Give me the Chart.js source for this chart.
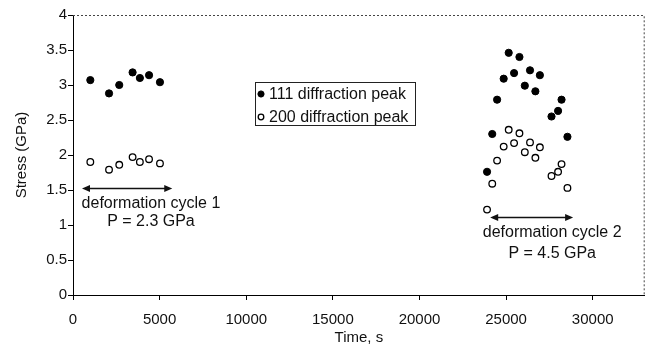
<!DOCTYPE html>
<html>
<head>
<meta charset="utf-8">
<script src="https://cdn.jsdelivr.net/npm/chart.js@4/dist/chart.umd.min.js"></script>
<style>
  html, body { margin: 0; padding: 0; background: #fff; }
  #wrap { width: 650px; height: 347px; position: relative; }
</style>
</head>
<body>
<div id="wrap"><canvas id="c" width="650" height="347"></canvas></div>
<script>
// Measured stress in two loading cycles (time in s, stress in GPa)
const cycle1Time = [1000, 2080, 2670, 3440, 3860, 4390, 5020];
const cycle1Peak111 = [3.07, 2.88, 3.00, 3.18, 3.10, 3.14, 3.04];
const cycle1Peak200 = [1.90, 1.79, 1.86, 1.97, 1.90, 1.94, 1.88];

const cycle2Time = [23900, 24200, 24480, 24860, 25150, 25460, 25770, 26080, 26380, 26690, 26950, 27620, 28000, 28200, 28540];
const cycle2Peak111 = [1.76, 2.30, 2.79, 3.09, 3.46, 3.17, 3.40, 2.99, 3.21, 2.91, 3.14, 2.55, 2.63, 2.79, 2.26];
const cycle2Peak200 = [1.22, 1.59, 1.92, 2.12, 2.36, 2.17, 2.31, 2.04, 2.18, 1.96, 2.11, 1.70, 1.76, 1.87, 1.53];

const seriesNames = ['111 diffraction peak', '200 diffraction peak'];
const yTickValues = [0, 0.5, 1, 1.5, 2, 2.5, 3, 3.5, 4];
const xTickValues = [0, 5000, 10000, 15000, 20000, 25000, 30000];

// Cycle annotations: arrow span (time), arrow level (stress), label lines
const cycleNames = ['deformation cycle 1', 'deformation cycle 2'];
const cyclePressure = ['P = 2.3 GPa', 'P = 4.5 GPa'];
const cycleArrowFrom = [520, 24080];
const cycleArrowTo = [5730, 28870];
const cycleArrowLevel = [1.53, 1.11];
const cycleLabelCenter = [4500, 27660];
const cycleLabelLevel = [1.31, 0.89];
const cyclePressureLevel = [1.05, 0.59];

const FONT = "'Liberation Sans', Arial, sans-serif";
const INK = '#111';

const pts = (xs, ys) => xs.map((x, i) => ({ x, y: ys[i] }));

const peak111 = pts(cycle1Time.concat(cycle2Time), cycle1Peak111.concat(cycle2Peak111));
const peak200 = pts(cycle1Time.concat(cycle2Time), cycle1Peak200.concat(cycle2Peak200));

const frameAndNotes = {
  id: 'frameAndNotes',
  afterDatasetsDraw(chart) {
    const { ctx, chartArea: a, scales: { x, y } } = chart;
    ctx.save();
    // dotted top and right frame
    ctx.strokeStyle = '#444';
    ctx.lineWidth = 1;
    ctx.setLineDash([2, 2]);
    ctx.beginPath();
    ctx.moveTo(a.left, a.top + 0.5);
    ctx.lineTo(a.right - 0.5, a.top + 0.5);
    ctx.lineTo(a.right - 0.5, a.bottom);
    ctx.stroke();
    ctx.setLineDash([]);

    // double-headed arrows with labels
    ctx.fillStyle = INK;
    ctx.strokeStyle = INK;
    for (let i = 0; i < cycleNames.length; i++) {
      const x1 = x.getPixelForValue(cycleArrowFrom[i]);
      const x2 = x.getPixelForValue(cycleArrowTo[i]);
      const yy = Math.round(y.getPixelForValue(cycleArrowLevel[i])) + 0.5;
      const head = 8, half = 3.5;
      ctx.lineWidth = 1.5;
      ctx.beginPath();
      ctx.moveTo(x1 + head - 1, yy);
      ctx.lineTo(x2 - head + 1, yy);
      ctx.stroke();
      ctx.beginPath();
      ctx.moveTo(x1, yy); ctx.lineTo(x1 + head, yy - half); ctx.lineTo(x1 + head, yy + half); ctx.closePath();
      ctx.fill();
      ctx.beginPath();
      ctx.moveTo(x2, yy); ctx.lineTo(x2 - head, yy - half); ctx.lineTo(x2 - head, yy + half); ctx.closePath();
      ctx.fill();

      ctx.font = '16px ' + FONT;
      ctx.textAlign = 'center';
      ctx.textBaseline = 'middle';
      const cx = x.getPixelForValue(cycleLabelCenter[i]);
      ctx.fillText(cycleNames[i], cx, y.getPixelForValue(cycleLabelLevel[i]));
      ctx.fillText(cyclePressure[i], cx, y.getPixelForValue(cyclePressureLevel[i]));
    }

    // legend box
    const lx = 255, ly = 82, lw = 160, lh = 43;
    ctx.lineWidth = 1;
    ctx.strokeStyle = '#222';
    ctx.strokeRect(lx + 0.5, ly + 0.5, lw, lh);
    ctx.font = '16px ' + FONT;
    ctx.textAlign = 'left';
    ctx.textBaseline = 'middle';
    chart.data.datasets.forEach((ds, i) => {
      const ry = ly + 12 + i * 23;
      ctx.beginPath();
      ctx.arc(lx + 6, ry, ds.pointRadius - 0.5, 0, Math.PI * 2);
      ctx.fillStyle = ds.pointBackgroundColor;
      ctx.fill();
      ctx.lineWidth = ds.pointBorderWidth;
      ctx.strokeStyle = ds.pointBorderColor;
      ctx.stroke();
      ctx.fillStyle = INK;
      ctx.fillText(ds.label, lx + 14, ry + 1);
    });
    ctx.restore();
  }
};

new Chart(document.getElementById('c'), {
  type: 'scatter',
  data: {
    datasets: [
      {
        label: seriesNames[0],
        data: peak111,
        pointRadius: 3.6,
        pointBackgroundColor: '#000',
        pointBorderColor: '#000',
        pointBorderWidth: 1
      },
      {
        label: seriesNames[1],
        data: peak200,
        pointRadius: 3.3,
        pointBackgroundColor: '#fff',
        pointBorderColor: '#000',
        pointBorderWidth: 1.3
      }
    ]
  },
  options: {
    responsive: false,
    animation: false,
    events: [],
    layout: { padding: { top: 15, right: 2, left: 0, bottom: 0 } },
    plugins: { legend: { display: false }, tooltip: { enabled: false } },
    scales: {
      x: {
        type: 'linear',
        min: 0,
        max: 33000,
        afterBuildTicks: s => { s.ticks = xTickValues.map(v => ({ value: v })); },
        afterFit: s => { s.height = 52; },
        ticks: {
          color: INK,
          font: { family: FONT, size: 15 },
          padding: 11,
          maxRotation: 0,
          callback: v => String(v)
        },
        grid: { display: true, drawOnChartArea: false, drawTicks: true, tickLength: 5, color: '#000' },
        border: { display: true, color: '#000', width: 1 },
        title: {
          display: true,
          text: 'Time, s',
          color: INK,
          font: { family: FONT, size: 15 },
          padding: { top: 0, bottom: 0 }
        }
      },
      y: {
        type: 'linear',
        min: 0,
        max: 4,
        afterBuildTicks: s => { s.ticks = yTickValues.map(v => ({ value: v })); },
        afterFit: s => { s.width = 73; },
        ticks: {
          color: INK,
          font: { family: FONT, size: 15 },
          padding: 1,
          callback: v => String(v)
        },
        grid: { display: true, drawOnChartArea: false, drawTicks: true, tickLength: 5, color: '#000' },
        border: { display: true, color: '#000', width: 1 },
        title: {
          display: true,
          text: 'Stress (GPa)',
          color: INK,
          font: { family: FONT, size: 15 },
          padding: { top: 13, bottom: 0 }
        }
      }
    }
  },
  plugins: [frameAndNotes]
});
</script>
</body>
</html>
